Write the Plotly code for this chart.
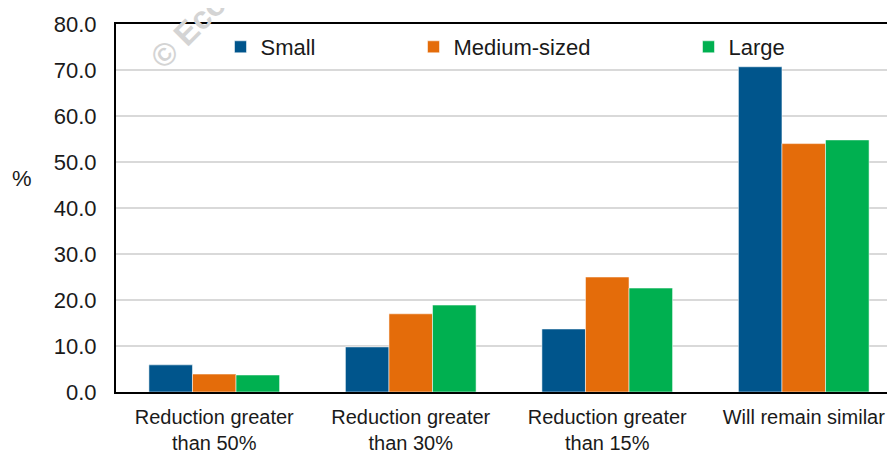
import plotly.graph_objects as go

categories = ["Reduction greater<br>than 50%", "Reduction greater<br>than 30%",
              "Reduction greater<br>than 15%", "Will remain similar"]
series_names = ["Small", "Medium-sized", "Large"]
small = [5.9, 9.8, 13.7, 70.7]
medium = [3.9, 17.0, 25.0, 54.0]
large = [3.7, 18.9, 22.6, 54.8]
colors = ["#00558C", "#E46C0A", "#00B050"]
y_ticks = [0, 10, 20, 30, 40, 50, 60, 70, 80]

# page has an 8px body margin: screenshot coords = figure coords + 8
OFF = 8
W, H = 895 - OFF, 452 - OFF
ML, MR, MT = 116 - OFF, 0, 24 - OFF
MB = H - (392 - OFF)
PW, PH = W - ML - MR, H - MT - MB

def px_x(X):  # X in screenshot pixels
    return (X - OFF - ML) / PW

def px_y(Y):  # Y in screenshot pixels
    return (H - MB - (Y - OFF)) / PH

FONT = "Liberation Sans, Arial, sans-serif"
FS = 22

fig = go.Figure()
legend_names = ["legend", "legend2", "legend3"]
for name, vals, col, lg in zip(series_names, [small, medium, large], colors, legend_names):
    fig.add_trace(go.Bar(
        x=categories, y=vals, name=name, legend=lg,
        marker=dict(color=col, line=dict(color="rgba(255,255,255,0.7)", width=0.75)),
    ))

legend_x_px = [220.5, 413.5, 688.5]
legend_common = dict(orientation="h", xanchor="left", yanchor="middle", y=px_y(47),
                     bgcolor="rgba(0,0,0,0)", borderwidth=0,
                     font=dict(family=FONT, size=FS, color="#1a1a1a"))
layout_legends = {}
for lg, xp in zip(legend_names, legend_x_px):
    layout_legends[lg] = dict(x=px_x(xp), **legend_common)

fig.update_layout(
    width=W, height=H,
    margin=dict(l=ML, r=MR, t=MT, b=MB),
    paper_bgcolor="white", plot_bgcolor="white",
    barmode="group", bargap=0.335, bargroupgap=0,
    showlegend=True,
    font=dict(family=FONT, size=FS, color="#1a1a1a"),
    xaxis=dict(
        range=[-0.5, -0.5 + PW / 196.5], automargin=False,
        showline=True, linecolor="black", linewidth=2, mirror=True,
        showgrid=False, ticks="", tickfont=dict(size=20, family=FONT, color="#1a1a1a"),
        ticklabelstandoff=6,
    ),
    yaxis=dict(
        range=[0, 80], tickvals=y_ticks, tickformat=".1f", automargin=False,
        showline=True, linecolor="black", linewidth=2,
        showgrid=True, gridcolor="#d9d9d9", gridwidth=2,
        ticks="", tickfont=dict(size=FS, family=FONT, color="#1a1a1a"),
        ticklabelstandoff=13, zeroline=False,
    ),
    **layout_legends,
)

fig.add_annotation(text="%", xref="paper", yref="paper", x=px_x(22), y=px_y(178),
                   showarrow=False, xanchor="center", yanchor="middle",
                   font=dict(family=FONT, size=FS, color="#1a1a1a"))

fig.add_annotation(text="<b>© Eco</b>", xref="paper", yref="paper", x=px_x(188), y=px_y(31),
                   showarrow=False, xanchor="center", yanchor="middle", textangle=-45,
                   font=dict(family=FONT, size=32, color="#d4d4d4"))

fig.add_annotation(text="<b>pay</b>", xref="paper", yref="paper", x=px_x(428), y=px_y(7),
                   showarrow=False, xanchor="center", yanchor="bottom",
                   font=dict(family=FONT, size=24, color="black"))

fig.write_html("out.html")
